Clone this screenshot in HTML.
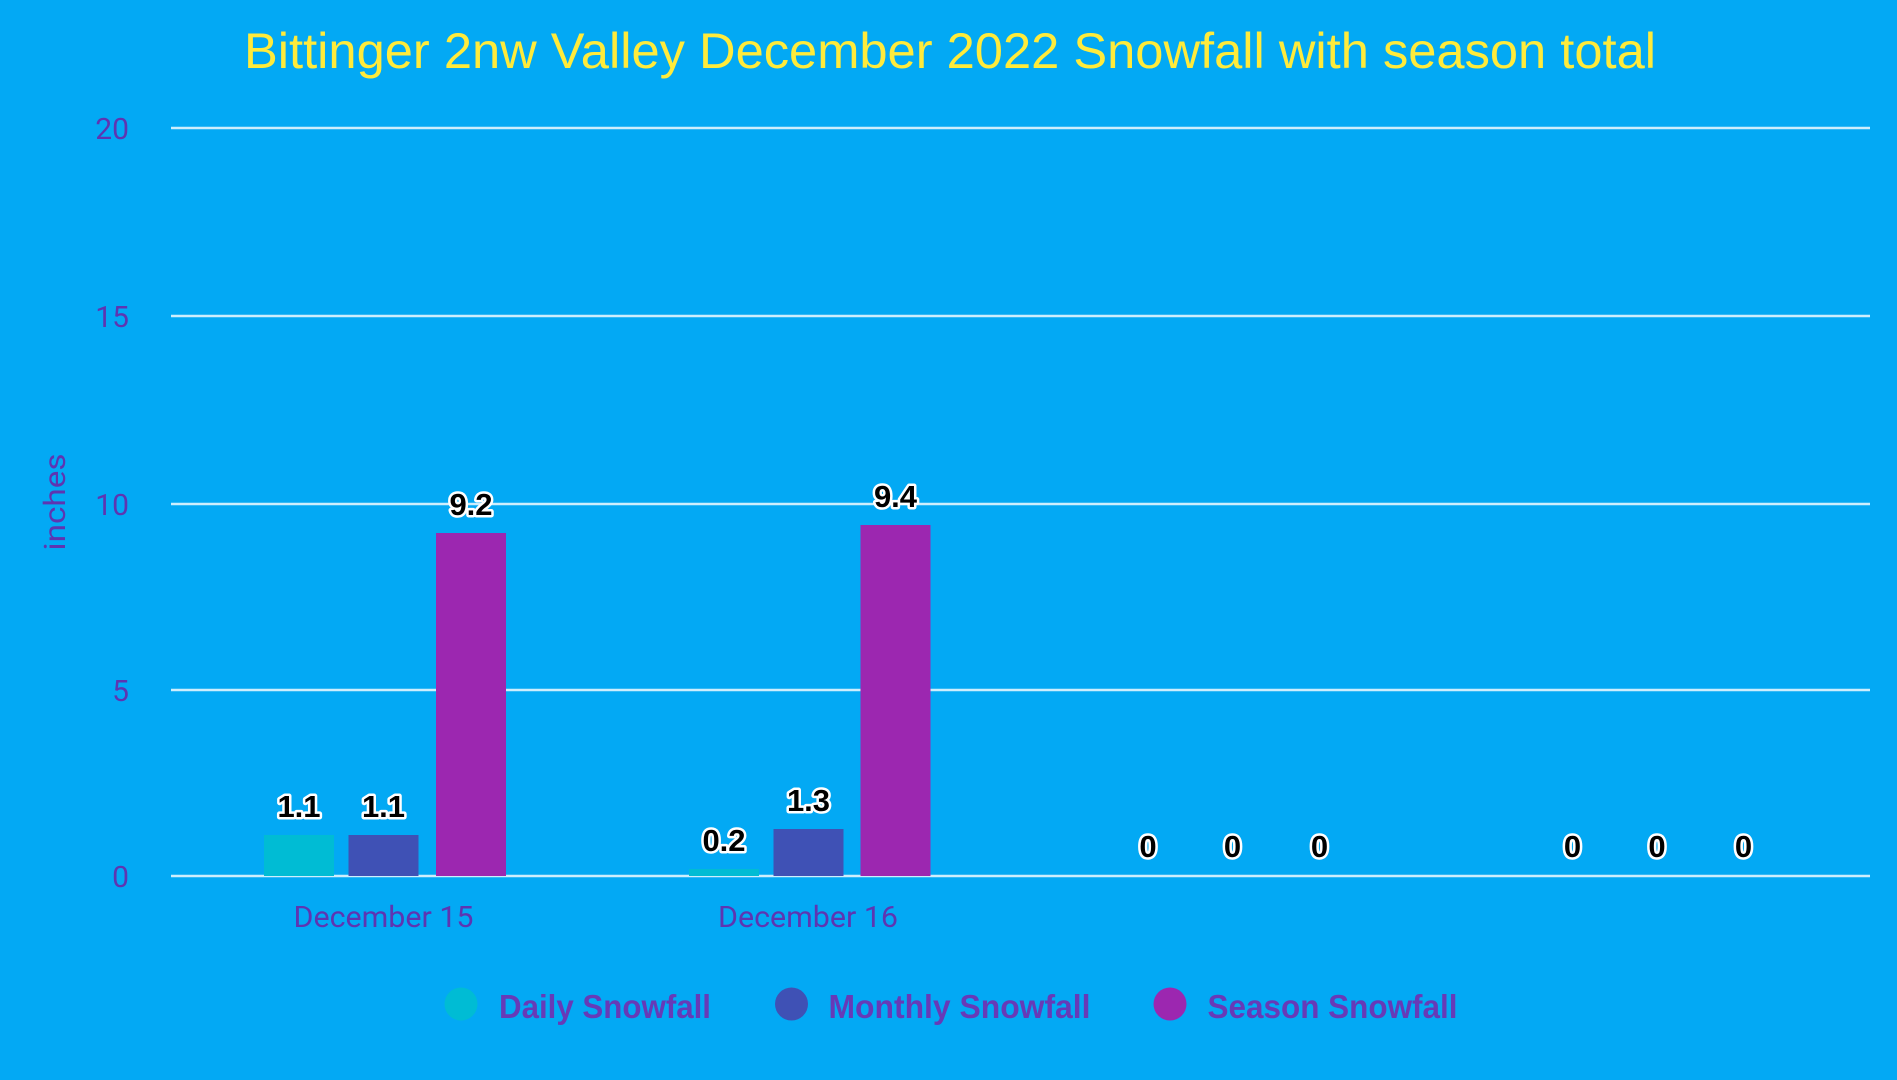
<!DOCTYPE html>
<html>
<head>
<meta charset="utf-8">
<style>
  html, body { margin: 0; padding: 0; }
  body { width: 1897px; height: 1080px; background: #03a9f4; overflow: hidden; }
  svg { display: block; }
  .tick { font-family: "Roboto", "Liberation Sans", sans-serif; font-size: 30px; fill: #5e35b1; }
  .dl { font-family: "Liberation Sans", sans-serif; font-weight: bold; font-size: 31px; fill: #000; stroke: #fff; stroke-width: 5px; paint-order: stroke; stroke-linejoin: round; }
  .leg { font-family: "Liberation Sans", sans-serif; font-weight: bold; font-size: 33px; fill: #673ab7; }
</style>
</head>
<body>
<svg width="1897" height="1080" viewBox="0 0 1897 1080" xmlns="http://www.w3.org/2000/svg">
  <rect x="0" y="0" width="1897" height="1080" fill="#03a9f4"/>

  <!-- Title -->
  <text x="244" y="68" textLength="1412" lengthAdjust="spacingAndGlyphs" font-family="Liberation Sans, sans-serif" font-size="50" fill="#ffeb3b">Bittinger 2nw Valley December 2022 Snowfall with season total</text>

  <!-- Gridlines -->
  <g stroke="#cdeefd" stroke-width="2.5">
    <line x1="171" y1="128" x2="1870" y2="128"/>
    <line x1="171" y1="316" x2="1870" y2="316"/>
    <line x1="171" y1="504" x2="1870" y2="504"/>
    <line x1="171" y1="690" x2="1870" y2="690"/>
    <line x1="171" y1="876" x2="1870" y2="876"/>
  </g>

  <!-- Y tick labels -->
  <g class="tick" text-anchor="end">
    <text x="129" y="139">20</text>
    <text x="129" y="327">15</text>
    <text x="129" y="515">10</text>
    <text x="129" y="701">5</text>
    <text x="129" y="887">0</text>
  </g>

  <!-- Y axis title -->
  <text class="tick" transform="translate(65,502) rotate(-90)" text-anchor="middle" font-size="31" textLength="97" lengthAdjust="spacingAndGlyphs">inches</text>

  <!-- Bars: Dec 15 -->
  <rect x="264" y="835" width="70" height="41" fill="#00bcd4"/>
  <rect x="348.5" y="835" width="70" height="41" fill="#3f51b5"/>
  <rect x="436" y="533" width="70" height="343" fill="#9c27b0"/>
  <!-- Bars: Dec 16 -->
  <rect x="689" y="869" width="70" height="7" fill="#00bcd4"/>
  <rect x="773.5" y="829" width="70" height="47" fill="#3f51b5"/>
  <rect x="860.5" y="525" width="70" height="351" fill="#9c27b0"/>

  <!-- Data labels -->
  <g class="dl" text-anchor="middle">
    <text x="299" y="817">1.1</text>
    <text x="383.5" y="817">1.1</text>
    <text x="471" y="515">9.2</text>
    <text x="724" y="851">0.2</text>
    <text x="808.5" y="811">1.3</text>
    <text x="895.5" y="507">9.4</text>
    <text x="1148" y="857">0</text>
    <text x="1232.5" y="857">0</text>
    <text x="1319.5" y="857">0</text>
    <text x="1572.5" y="857">0</text>
    <text x="1657" y="857">0</text>
    <text x="1743.5" y="857">0</text>
  </g>

  <!-- X labels -->
  <g class="tick">
    <text x="293.5" y="927" textLength="180" lengthAdjust="spacingAndGlyphs">December 15</text>
    <text x="718" y="927" textLength="180" lengthAdjust="spacingAndGlyphs">December 16</text>
  </g>

  <!-- Legend -->
  <circle cx="461" cy="1004" r="16.5" fill="#00bcd4"/>
  <text class="leg" x="499" y="1018" textLength="212" lengthAdjust="spacingAndGlyphs">Daily Snowfall</text>
  <circle cx="791.5" cy="1004" r="16.5" fill="#3f51b5"/>
  <text class="leg" x="828.5" y="1018" textLength="262" lengthAdjust="spacingAndGlyphs">Monthly Snowfall</text>
  <circle cx="1170" cy="1004" r="16.5" fill="#9c27b0"/>
  <text class="leg" x="1207.5" y="1018" textLength="250" lengthAdjust="spacingAndGlyphs">Season Snowfall</text>
</svg>
</body>
</html>
